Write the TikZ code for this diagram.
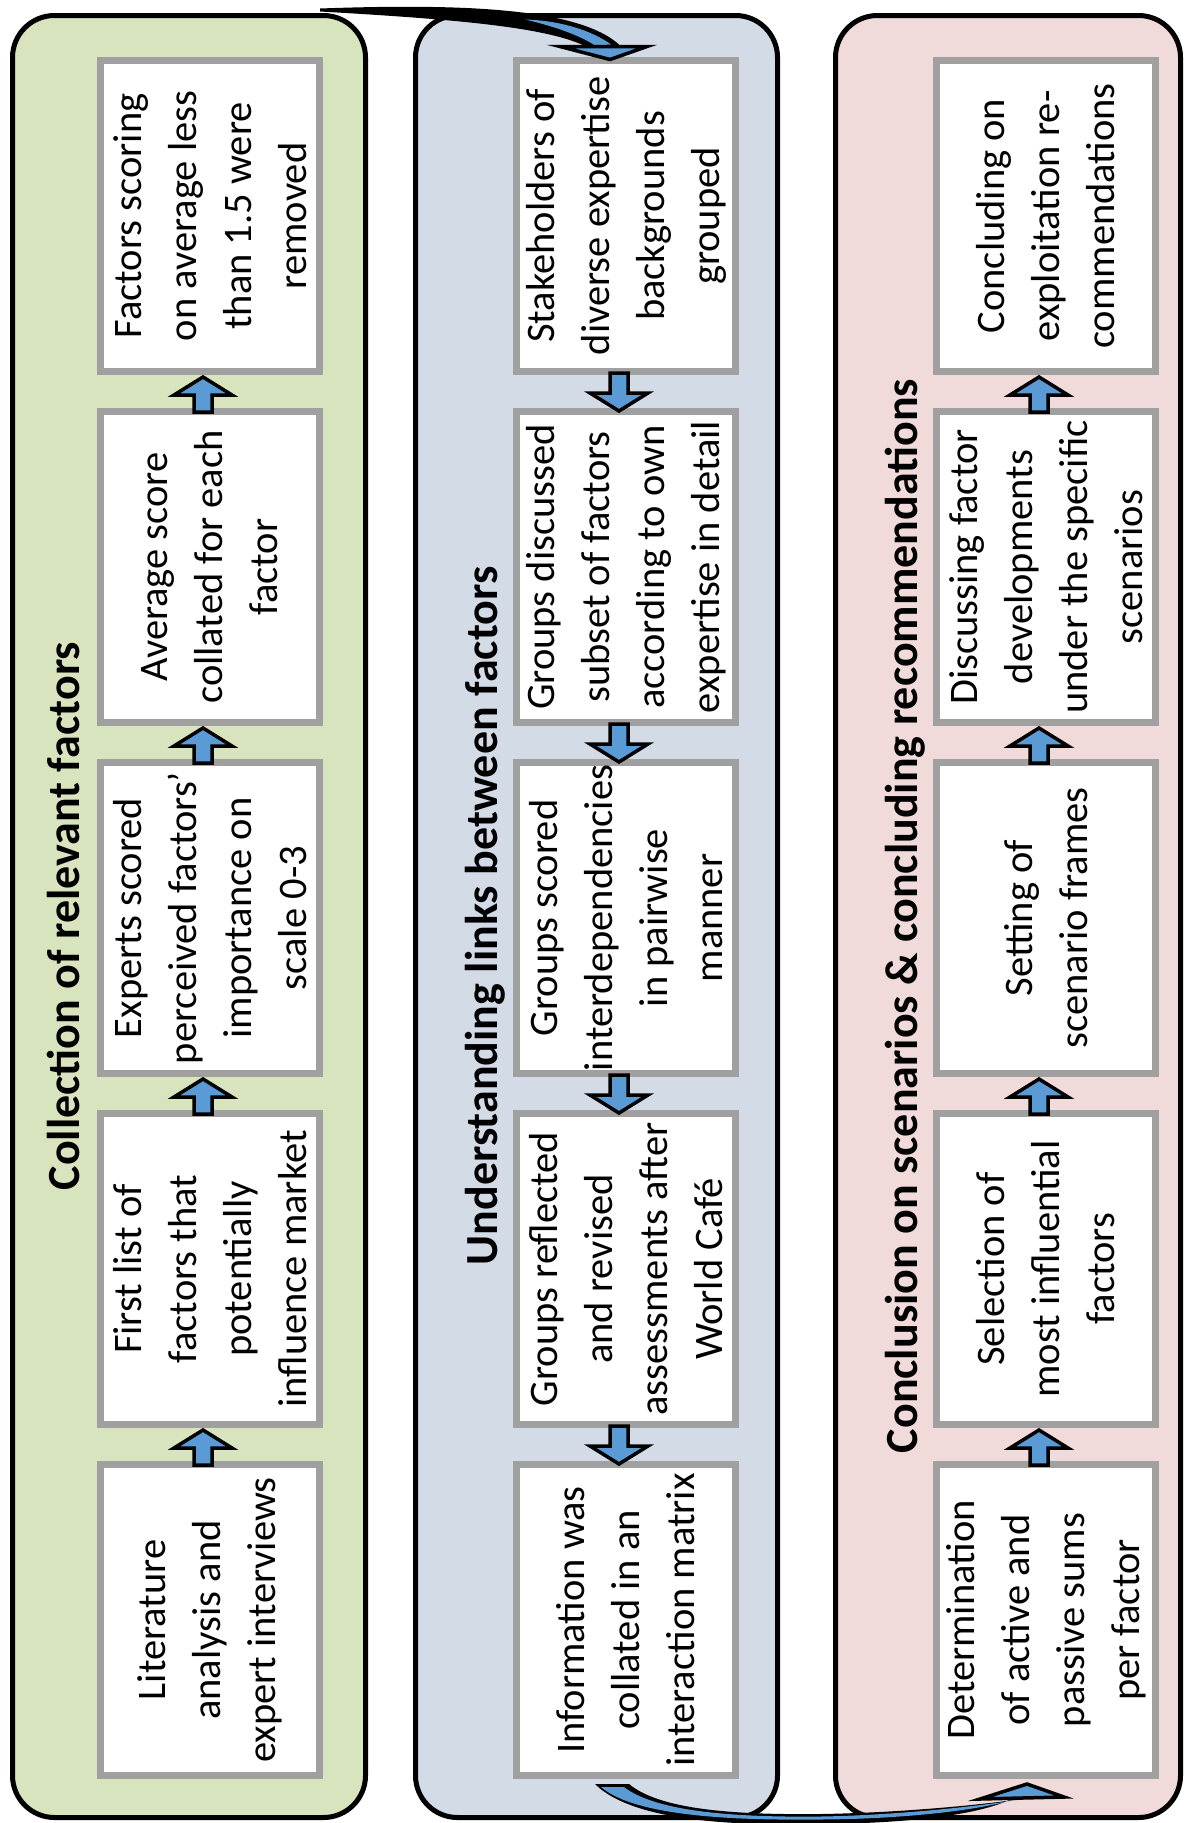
\documentclass[tikz,border=0pt]{standalone}
\usepackage{fontspec}
\setmainfont{Carlito}
\usetikzlibrary{calc}
\definecolor{pgreen}{HTML}{D7E4BD}
\definecolor{pblue}{HTML}{D3DBE7}
\definecolor{ppink}{HTML}{F1DBDA}
\definecolor{boxgrey}{HTML}{A0A0A0}
\definecolor{arrblue}{HTML}{5B9BD5}
\newcommand\ArrUp[2]{%
  \draw[barrow] ($(#1.north)+(-16,4)$) -- ($(#2.south)+(-16,20)$) -- ($(#2.south)+(-36,20)$) -- ($(#2.south)+(-7,2)$) -- ($(#2.south)+(22,20)$) -- ($(#2.south)+(2,20)$) -- ($(#1.north)+(2,4)$) -- cycle;}
\newcommand\ArrDn[2]{%
  \draw[barrow] ($(#1.south)+(-16,-2)$) -- ($(#2.north)+(-16,-15)$) -- ($(#2.north)+(-36,-15)$) -- ($(#2.north)+(-7,3)$) -- ($(#2.north)+(22,-15)$) -- ($(#2.north)+(2,-15)$) -- ($(#1.south)+(2,-2)$) -- cycle;}
\begin{document}
\begin{tikzpicture}[x=1pt,y=-1pt,
  panel/.style={draw=black, line width=5pt, rounded corners=42pt, inner sep=0pt, minimum height=1802pt},
  box/.style={draw=boxgrey, line width=7pt, fill=white, inner sep=0pt, minimum width=219pt, minimum height=311pt},
  txt/.style={rotate=90, align=center, inner sep=0pt, font=\fontsize{40.5}{55}\selectfont},
  ttl/.style={rotate=90, anchor=base, inner sep=0pt, font=\fontsize{46}{55}\selectfont\bfseries},
  barrow/.style={fill=arrblue, draw=black, line width=3.5pt, line join=miter}]
\fill[white] (0,0) rectangle (1186,1823);
\useasboundingbox (0,0) rectangle (1186,1823);

% panels
\node[panel, fill=pgreen, minimum width=353pt] (gp) at (189,916.5) {};
\node[panel, fill=pblue, minimum width=362pt] (bp) at (596.5,916.5) {};
\node[panel, fill=ppink, minimum width=345pt] (pp) at (1008,916.5) {};

% titles
\node[ttl] (gt) at (79,916) {Collection of relevant factors};
\node[ttl] (bt) at (497,916) {Understanding links between factors};
\node[ttl] (pt) at (917,916) {Conclusion on scenarios \& concluding recommendations};

% green boxes
\node[box, label={[txt]center:{Factors scoring\\on average less\\than 1.5 were\\removed}}] (g5) at (210,216) {};
\node[box, label={[txt]center:{Average score\\collated for each\\factor}}] (g4) at (210,567) {};
\node[box, label={[txt]center:{Experts scored\\perceived factors’\\importance on\\scale 0-3}}] (g3) at (210,918) {};
\node[box, label={[txt]center:{First list of\\factors that\\potentially\\influence market}}] (g2) at (210,1269) {};
\node[box, label={[txt]center:{Literature\\analysis and\\expert interviews}}] (g1) at (210,1620) {};

% blue boxes
\node[box, label={[txt]center:{Stakeholders of\\diverse expertise\\backgrounds\\grouped}}] (b1) at (626,216) {};
\node[box, label={[txt]center:{Groups discussed\\subset of factors\\according to own\\expertise in detail}}] (b2) at (626,567) {};
\node[box, label={[txt]center:{Groups scored\\interdependencies\\in pairwise\\manner}}] (b3) at (626,918) {};
\node[box, label={[txt]center:{Groups reflected\\and revised\\assessments after\\World Café}}] (b4) at (626,1269) {};
\node[box, label={[txt]center:{Information was\\collated in an\\interaction matrix}}] (b5) at (626,1620) {};

% pink boxes
\node[box, label={[txt]center:{Concluding on\\exploitation re-\\commendations}}] (p5) at (1046,216) {};
\node[box, label={[txt]center:{Discussing factor\\developments\\under the specific\\scenarios}}] (p4) at (1046,567) {};
\node[box, label={[txt]center:{Setting of\\scenario frames}}] (p3) at (1046,918) {};
\node[box, label={[txt]center:{Selection of\\most influential\\factors}}] (p2) at (1046,1269) {};
\node[box, label={[txt]center:{Determination\\of active and\\passive sums\\per factor}}] (p1) at (1046,1620) {};

% block arrows
\ArrUp{g1}{g2}
\ArrUp{g2}{g3}
\ArrUp{g3}{g4}
\ArrUp{g4}{g5}
\ArrDn{b1}{b2}
\ArrDn{b2}{b3}
\ArrDn{b3}{b4}
\ArrDn{b4}{b5}
\ArrUp{p1}{p2}
\ArrUp{p2}{p3}
\ArrUp{p3}{p4}
\ArrUp{p4}{p5}

% curved arrow: green -> blue (top)
\begin{scope}[shift={($(b1.north)+(-16,2.5)$)}]
  \fill[black] (-290,-51) .. controls (-150,-56) and (-30,-52) .. (10,-14) -- (-22,-12) .. controls (-60,-32) and (-150,-40) .. (-290,-48) -- cycle;
  \fill[arrblue] (-85,-40) .. controls (-50,-39) and (-18,-29) .. (1,-15) -- (-15,-14) .. controls (-30,-24) and (-55,-33) .. (-85,-40) -- cycle;
  \draw[barrow] (-50,-13) -- (0,0) -- (37,-13) -- cycle;
\end{scope}

% curved arrow: blue -> pink (bottom)
\begin{scope}[shift={($(p1.south)+(-19,5)$)}]
  \fill[black] (-432,0) .. controls (-390,42) and (-267,41) .. (-207,40) .. controls (-127,39.5) and (-52,32) .. (-18,16) -- (14,12) .. controls (-47,22) and (-137,29) .. (-207,30) .. controls (-297,31) and (-368,25) .. (-398,0) -- cycle;
  \fill[arrblue] (-426,3) .. controls (-388,36) and (-267,36) .. (-207,35.5) .. controls (-127,35) and (-55,27) .. (-18,17) -- (6,13.5) .. controls (-50,23) and (-137,31.5) .. (-207,32.5) .. controls (-297,33.5) and (-372,27) .. (-403,3) -- cycle;
  \draw[barrow] (-47,15) -- (0,0) -- (37,13) -- cycle;
\end{scope}
\end{tikzpicture}
\end{document}
